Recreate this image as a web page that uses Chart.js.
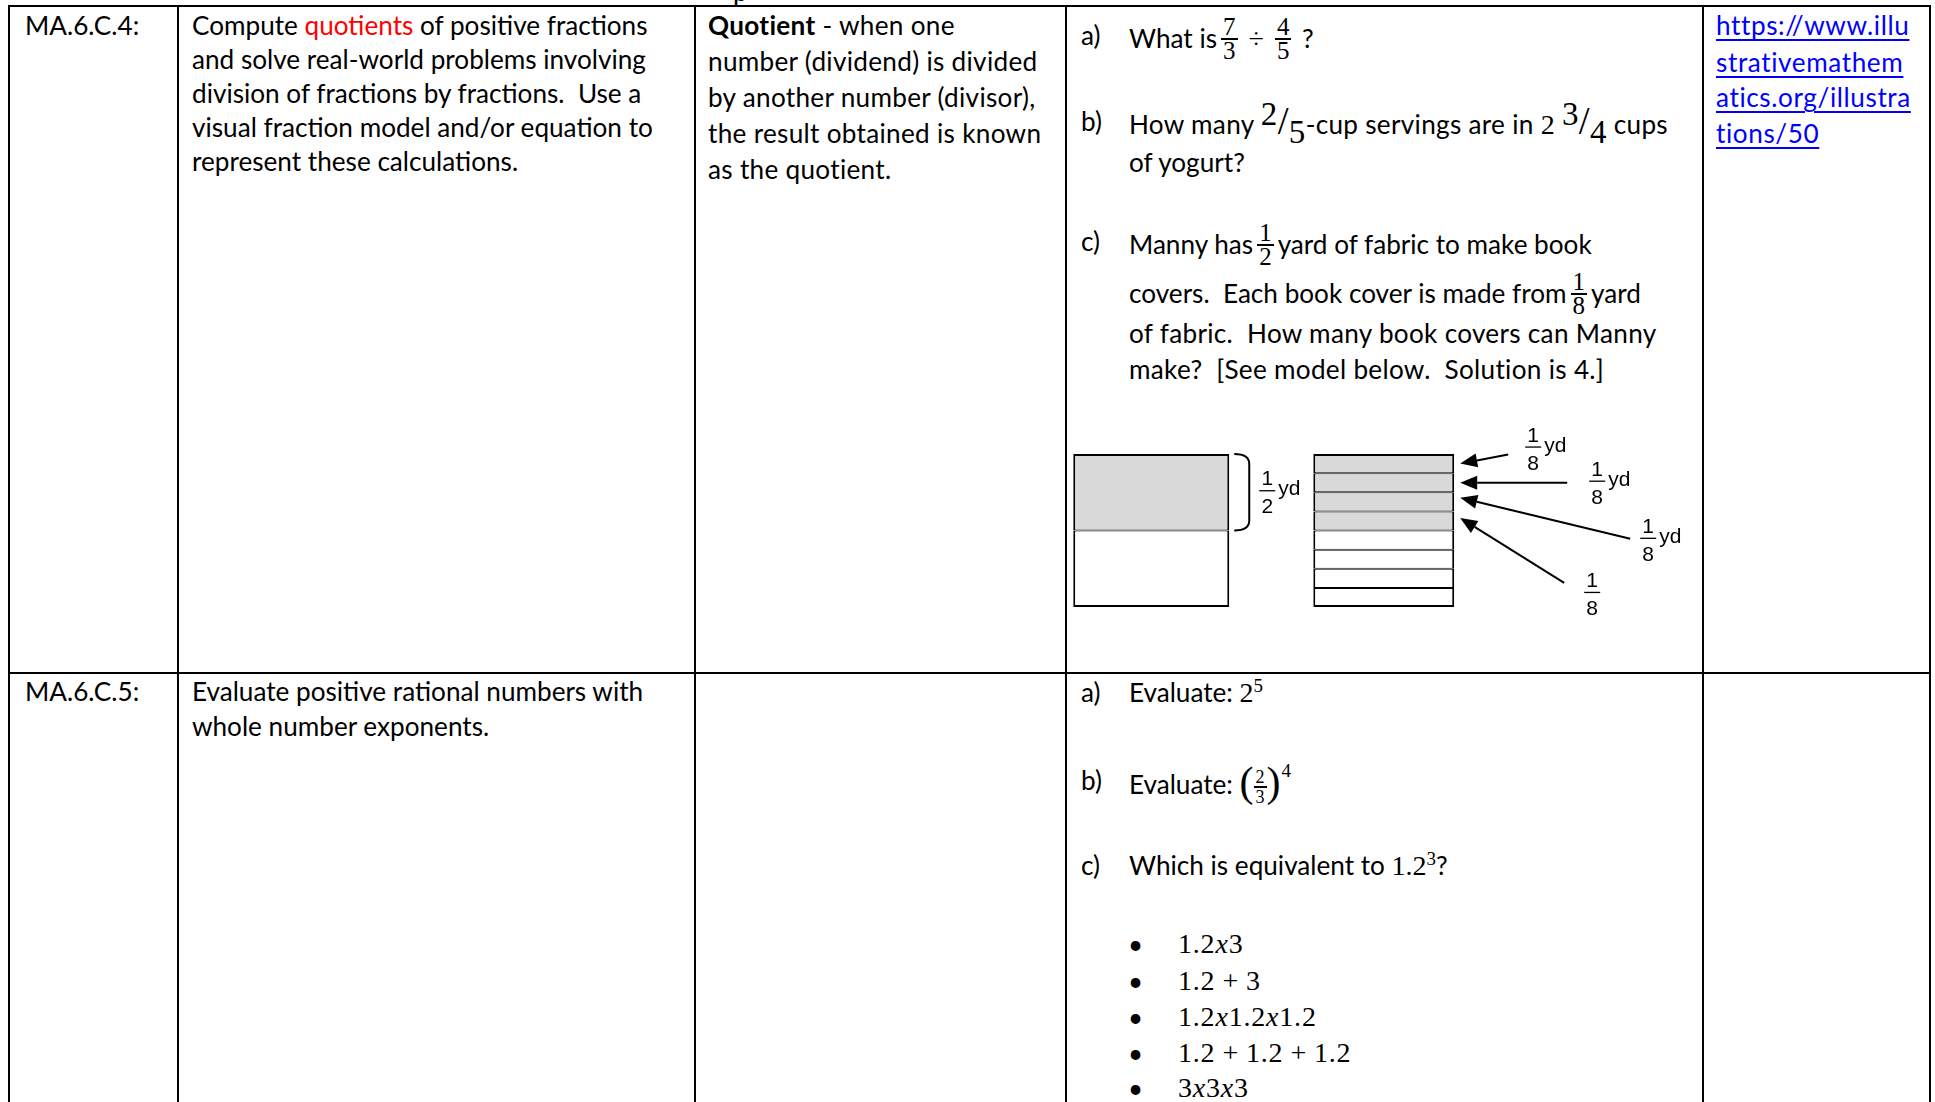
<!DOCTYPE html>
<html><head><meta charset="utf-8">
<script src="https://cdn.jsdelivr.net/npm/chart.js@4.4.1/dist/chart.umd.min.js"></script>
<style>
html,body{margin:0;padding:0;background:#fff;}
body{width:1935px;height:1102px;position:relative;overflow:hidden;font-family:Lato,"Open Sans",sans-serif;color:#000;}
.hl,.vl{position:absolute;background:#000;}
.t{position:absolute;white-space:pre;font-size:var(--fs,23px);line-height:34px;height:34px;}
.m{font-family:"Liberation Serif","DejaVu Serif",serif;}
.frac{display:inline-block;vertical-align:middle;text-align:center;font-family:"Liberation Serif",serif;font-size:25px;line-height:22px;margin:0 4px;position:relative;top:-2px;}
.frac span{display:block;padding:0 2px;}
.frac .n{border-bottom:2px solid #000;}
.div{font-family:"Liberation Serif",serif;font-size:28px;margin:0 7px;}
.sup{font-family:"Liberation Serif",serif;font-size:19px;position:relative;top:-10px;}
.big{font-family:"Liberation Serif",serif;font-size:28px;}
.bsup{font-family:"Liberation Serif",serif;font-size:33px;position:relative;top:-9px;}
.bsub{font-family:"Liberation Serif",serif;font-size:33px;position:relative;top:9px;}
.slash{font-family:"Liberation Serif",serif;font-size:39px;}
.bl{font-family:"Liberation Serif",serif;font-size:28px;letter-spacing:0.8px;}
.bl i{font-style:italic;}
.op{margin:0 7px;}
.dot{position:absolute;font-size:26px;line-height:34px;}
a{color:#0000ff;text-decoration:underline;text-underline-offset:4px;text-decoration-thickness:2px;}
#diagram{position:absolute;left:1035px;top:420px;width:668px;height:220px;}
</style>
</head><body>
<div class="t" style="left:733px;top:-26px;">p</div>

<!-- table grid -->
<div class="hl" style="left:9px;top:5px;width:1922px;height:2px;"></div>
<div class="hl" style="left:9px;top:672px;width:1922px;height:2px;"></div>
<div class="vl" style="left:8px;top:5px;width:2px;height:1100px;"></div>
<div class="vl" style="left:177px;top:5px;width:2px;height:1100px;"></div>
<div class="vl" style="left:694px;top:5px;width:2px;height:1100px;"></div>
<div class="vl" style="left:1065px;top:5px;width:2px;height:1100px;"></div>
<div class="vl" style="left:1702px;top:5px;width:2px;height:1100px;"></div>
<div class="vl" style="left:1929px;top:5px;width:2px;height:1100px;"></div>

<!-- Row 1 -->
<div class="t" style="left:25px;top:8px;">MA.6.C.4:</div>
<div class="t" style="left:192px;top:8px;">Compute <span style="color:#ff0000">quotients</span> of positive fractions</div>
<div class="t" style="left:192px;top:42px;">and solve real-world problems involving</div>
<div class="t" style="left:192px;top:76px;">division of fractions by fractions.  Use a</div>
<div class="t" style="left:192px;top:110px;">visual fraction model and/or equation to</div>
<div class="t" style="left:192px;top:144px;">represent these calculations.</div>

<div class="t" style="left:708px;top:8px;letter-spacing:0.3px;"><b>Quotient</b> - when one</div>
<div class="t" style="left:708px;top:44px;letter-spacing:0.3px;">number (dividend) is divided</div>
<div class="t" style="left:708px;top:80px;letter-spacing:0.3px;">by another number (divisor),</div>
<div class="t" style="left:708px;top:116px;letter-spacing:0.3px;">the result obtained is known</div>
<div class="t" style="left:708px;top:152px;letter-spacing:0.3px;">as the quotient.</div>

<div class="t" style="left:1081px;top:18px;">a)</div>
<div class="t" style="left:1129px;top:18px;">What is<span class="frac"><span class="n">7</span><span>3</span></span><span class="div">÷</span><span class="frac"><span class="n">4</span><span>5</span></span> ?</div>
<div class="t" style="left:1081px;top:104px;">b)</div>
<div class="t" style="left:1129px;top:104px;letter-spacing:0.3px;">How many <span class="bsup">2</span><span class="slash">/</span><span class="bsub">5</span>-cup servings are in <span class="big">2</span> <span class="bsup">3</span><span class="slash">/</span><span class="bsub">4</span> cups</div>
<div class="t" style="left:1129px;top:145px;">of yogurt?</div>
<div class="t" style="left:1081px;top:224px;">c)</div>
<div class="t" style="left:1129px;top:224px;">Manny has<span class="frac"><span class="n">1</span><span>2</span></span>yard of fabric to make book</div>
<div class="t" style="left:1129px;top:273px;">covers.  Each book cover is made from<span class="frac"><span class="n">1</span><span>8</span></span>yard</div>
<div class="t" style="left:1129px;top:316px;letter-spacing:0.3px;">of fabric.  How many book covers can Manny</div>
<div class="t" style="left:1129px;top:352px;letter-spacing:0.3px;">make?  [See model below.  Solution is 4.]</div>

<div class="t" style="left:1716px;top:8px;letter-spacing:0.6px;"><a>https://www.illu</a></div>
<div class="t" style="left:1716px;top:45px;letter-spacing:0.6px;"><a>strativemathem</a></div>
<div class="t" style="left:1716px;top:80px;letter-spacing:0.6px;"><a>atics.org/illustra</a></div>
<div class="t" style="left:1716px;top:116px;letter-spacing:0.6px;"><a>tions/50</a></div>

<div id="diagram"><canvas id="c" width="668" height="220"></canvas></div>

<!-- Row 2 -->
<div class="t" style="left:25px;top:674px;">MA.6.C.5:</div>
<div class="t" style="left:192px;top:674px;">Evaluate positive rational numbers with</div>
<div class="t" style="left:192px;top:709px;">whole number exponents.</div>

<div class="t" style="left:1081px;top:675px;">a)</div>
<div class="t" style="left:1129px;top:675px;">Evaluate: <span class="big">2</span><span class="sup">5</span></div>
<div class="t" style="left:1081px;top:763px;">b)</div>
<div class="t" style="left:1129px;top:763px;">Evaluate: <span class="m" style="font-size:42px;position:relative;top:2px;">(</span><span class="frac" style="font-size:18px;line-height:18px;margin:0;top:0;"><span class="n">2</span><span>3</span></span><span class="m" style="font-size:42px;position:relative;top:2px;">)</span><span class="sup" style="top:-17px;margin-left:1px;">4</span></div>
<div class="t" style="left:1081px;top:848px;">c)</div>
<div class="t" style="left:1129px;top:848px;">Which is equivalent to <span class="big">1.2</span><span class="sup">3</span>?</div>

<div class="dot" style="left:1128px;top:927px;">•</div>
<div class="t bl" style="left:1178px;top:927px;">1.2<i>x</i>3</div>
<div class="dot" style="left:1128px;top:964px;">•</div>
<div class="t bl" style="left:1178px;top:964px;">1.2<span class="op">+</span>3</div>
<div class="dot" style="left:1128px;top:1000px;">•</div>
<div class="t bl" style="left:1178px;top:1000px;">1.2<i>x</i>1.2<i>x</i>1.2</div>
<div class="dot" style="left:1128px;top:1036px;">•</div>
<div class="t bl" style="left:1178px;top:1036px;">1.2<span class="op">+</span>1.2<span class="op">+</span>1.2</div>
<div class="dot" style="left:1128px;top:1071px;">•</div>
<div class="t bl" style="left:1178px;top:1071px;">3<i>x</i>3<i>x</i>3</div>

<script>
// ---- data ----
const modelCategories = ['1/2 yd', '1/8 yd pieces'];
const halfShaded = [0.5, null];
const halfBlank = [0.5, null];
const eighthValues = [0.125, 0.125, 0.125, 0.125, 0.125, 0.125, 0.125, 0.125];
const eighthShaded = [true, true, true, true, false, false, false, false];
const halfLabel = ['1', '2', 'yd'];
const eighthLabels = [['1', '8', 'yd'], ['1', '8', 'yd'], ['1', '8', 'yd'], ['1', '8', '']];

// fit body text size to the reference line width
(function () {
  const p = document.createElement('canvas').getContext('2d');
  p.font = '100px Lato';
  const w = p.measureText('and solve real-world problems involving').width;
  document.documentElement.style.setProperty('--fs', (100 * 454 / w).toFixed(2) + 'px');
})();

const GREY = '#d9d9d9';
const datasets = [
  { data: halfShaded, backgroundColor: GREY, barPercentage: 0.671,
    borderWidth: { left: 2, right: 2, top: 2, bottom: 1 } },
  { data: halfBlank, backgroundColor: '#ffffff', barPercentage: 0.671,
    borderWidth: { left: 2, right: 2, top: 1, bottom: 2 } }
];
eighthValues.forEach((v, i) => {
  datasets.push({
    data: [null, v],
    backgroundColor: eighthShaded[i] ? GREY : '#ffffff',
    barPercentage: 0.606,
    borderWidth: { left: 2, right: 2, top: i === 0 ? 2 : 1, bottom: i === eighthValues.length - 1 ? 2 : 1 }
  });
});
datasets.forEach(d => { d.borderColor = '#000'; d.categoryPercentage = 1; d.borderSkipped = false; });

// arrow annotation layout: [tail dx, tail dy, label dx, label dy, tip dy]
const arrowLayout = [[48, -9, 73, -17, 0], [107, 0, 137, -2, 0], [170, 41, 188, 40, -4], [104, 65, 132, 74, -3]];

function drawFrac(ctx, cx, ly, num, den, unit) {
  ctx.font = '21px "Liberation Sans", Arial, sans-serif';
  ctx.fillStyle = '#000';
  ctx.textAlign = 'center';
  ctx.textBaseline = 'alphabetic';
  ctx.fillText(num, cx, ly - 5);
  ctx.fillText(den, cx, ly + 23);
  ctx.lineWidth = 1.3;
  ctx.beginPath(); ctx.moveTo(cx - 8, ly + 0.5); ctx.lineTo(cx + 8, ly + 0.5); ctx.stroke();
  if (unit) { ctx.textAlign = 'left'; ctx.fillText(unit, cx + 11, ly + 5); }
}
function arrow(ctx, x1, y1, x2, y2) {
  const a = Math.atan2(y2 - y1, x2 - x1), L = 17, H = 7;
  const bx = x2 - L * Math.cos(a), by = y2 - L * Math.sin(a);
  ctx.lineWidth = 2; ctx.strokeStyle = '#000';
  ctx.beginPath(); ctx.moveTo(x1, y1); ctx.lineTo(bx, by); ctx.stroke();
  ctx.beginPath(); ctx.moveTo(x2, y2);
  ctx.lineTo(bx + H * Math.sin(a), by - H * Math.cos(a));
  ctx.lineTo(bx - H * Math.sin(a), by + H * Math.cos(a));
  ctx.closePath(); ctx.fillStyle = '#000'; ctx.fill();
}

const notes = {
  id: 'notes',
  afterDatasetsDraw(chart) {
    const ctx = chart.ctx; ctx.save();
    const h = chart.getDatasetMeta(0).data[0];
    const top = Math.min(h.y, h.base), mid = Math.max(h.y, h.base), right = h.x + h.width / 2;
    // brace
    const x0 = right + 5, x1 = right + 20;
    ctx.lineWidth = 2; ctx.strokeStyle = '#000';
    ctx.beginPath(); ctx.moveTo(x0, top);
    ctx.quadraticCurveTo(x1, top, x1, top + 10);
    ctx.lineTo(x1, mid - 10);
    ctx.quadraticCurveTo(x1, mid, x0, mid); ctx.stroke();
    drawFrac(ctx, right + 38, (top + mid) / 2 - 2, halfLabel[0], halfLabel[1], halfLabel[2]);
    // arrows to eighths
    eighthLabels.forEach((lab, i) => {
      const e = chart.getDatasetMeta(2 + i).data[1];
      const tipX = e.x + e.width / 2 + 6, tipY = (e.y + e.base) / 2 + arrowLayout[i][4];
      const L = arrowLayout[i];
      arrow(ctx, tipX + L[0], tipY + L[1], tipX, tipY);
      drawFrac(ctx, tipX + L[2], tipY + L[3], lab[0], lab[1], lab[2]);
    });
    ctx.restore();
  }
};

new Chart(document.getElementById('c'), {
  type: 'bar',
  data: { labels: modelCategories, datasets },
  options: {
    responsive: false, animation: false, devicePixelRatio: 1,
    layout: { padding: { left: 0, right: 203, top: 34, bottom: 33 } },
    plugins: { legend: { display: false }, tooltip: { enabled: false } },
    scales: {
      x: { stacked: true, display: false },
      y: { stacked: true, display: false, min: 0, max: 1, reverse: true }
    }
  },
  plugins: [notes]
});
</script>
</body></html>
